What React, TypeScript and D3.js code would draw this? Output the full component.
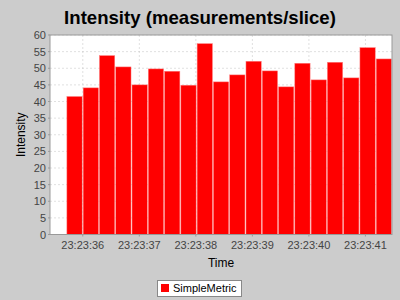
import React from "react";
import * as d3 from "d3";

const title = "Intensity (measurements/slice)";
const seriesName = "SimpleMetric";
const xLabel = "Time";
const yLabel = "Intensity";
// bar start times (ms since 23:23:00)
const barStartMs = [35710, 35998, 36286, 36574, 36862, 37150, 37438, 37726, 38014, 38302, 38590, 38878, 39166, 39454, 39742, 40030, 40318, 40606, 40894, 41182];
const barWidthMs = 288;
const values = [41.5, 44.1, 53.8, 50.4, 45.0, 49.8, 49.1, 44.9, 57.4, 45.9, 48.0, 52.1, 49.2, 44.4, 51.5, 46.5, 51.8, 47.1, 56.2, 52.8];
const yTicks = [0, 5, 10, 15, 20, 25, 30, 35, 40, 45, 50, 55, 60];
const xTickSeconds = [36, 37, 38, 39, 40, 41];
const domainMs = [35420, 41470];

const base = new Date(2020, 0, 1, 23, 23, 0).getTime();
const toDate = (ms: number) => new Date(base + ms);

export default function App() {
  const W = 400, H = 300;
  const left = 50, right = 392, top = 35, bottom = 234.5;
  const x = d3.scaleTime().domain(domainMs.map(toDate)).range([left, right]);
  const y = d3.scaleLinear().domain([0, 60]).range([bottom, top]);
  const fmt = d3.timeFormat("%H:%M:%S");
  const font = "Arial, 'Liberation Sans', sans-serif";
  return (
    <svg width={W} height={H} style={{ position: "absolute", left: 0, top: 0 }} fontFamily={font}>
      <rect x={0} y={0} width={W} height={H} fill="#cccccc" />
      <text x={200} y={24} textAnchor="middle" fontSize={18.6} fontWeight="bold" fill="#000">{title}</text>
      <rect x={left} y={top} width={right - left} height={bottom - top} fill="#fff" />
      {yTicks.map((t) => (
        <line key={"gy" + t} x1={left} x2={right} y1={y(t)} y2={y(t)} stroke="#c0c0c0" strokeWidth={0.5} strokeDasharray="2,2" />
      ))}
      {xTickSeconds.map((s) => (
        <line key={"gx" + s} x1={x(toDate(s * 1000))} x2={x(toDate(s * 1000))} y1={top} y2={bottom} stroke="#c0c0c0" strokeWidth={0.5} strokeDasharray="2,2" />
      ))}
      {values.map((v, i) => {
        const x0 = x(toDate(barStartMs[i]));
        const x1 = x(toDate(barStartMs[i] + barWidthMs));
        return (
          <rect key={"b" + i} x={x0 + 0.5} y={y(v)} width={x1 - x0 - 1} height={bottom - y(v)} fill="#ff0000" stroke="#ff8080" strokeWidth={0.5} />
        );
      })}
      <rect x={left} y={top} width={right - left} height={bottom - top} fill="none" stroke="#999" strokeWidth={1} />
      {yTicks.map((t) => (
        <g key={"ty" + t}>
          <line x1={left - 2} x2={left} y1={y(t)} y2={y(t)} stroke="#999" />
          <text x={left - 4} y={y(t) + 4} textAnchor="end" fontSize={11} fill="#444">{t}</text>
        </g>
      ))}
      {xTickSeconds.map((s) => (
        <g key={"tx" + s}>
          <line x1={x(toDate(s * 1000))} x2={x(toDate(s * 1000))} y1={bottom} y2={bottom + 2} stroke="#999" />
          <text x={x(toDate(s * 1000))} y={bottom + 14} textAnchor="middle" fontSize={11} fill="#444">{fmt(toDate(s * 1000))}</text>
        </g>
      ))}
      <text x={221} y={267} textAnchor="middle" fontSize={12} fill="#000">{xLabel}</text>
      <text transform={`translate(25,${(top + bottom) / 2}) rotate(-90)`} textAnchor="middle" fontSize={12} fill="#000">{yLabel}</text>
      <rect x={157.5} y={280.5} width={84} height={16} fill="#fff" stroke="#888" />
      <rect x={161} y={284} width={8} height={8} fill="#ff0000" />
      <text x={173} y={292} fontSize={11} fill="#000">{seriesName}</text>
    </svg>
  );
}
